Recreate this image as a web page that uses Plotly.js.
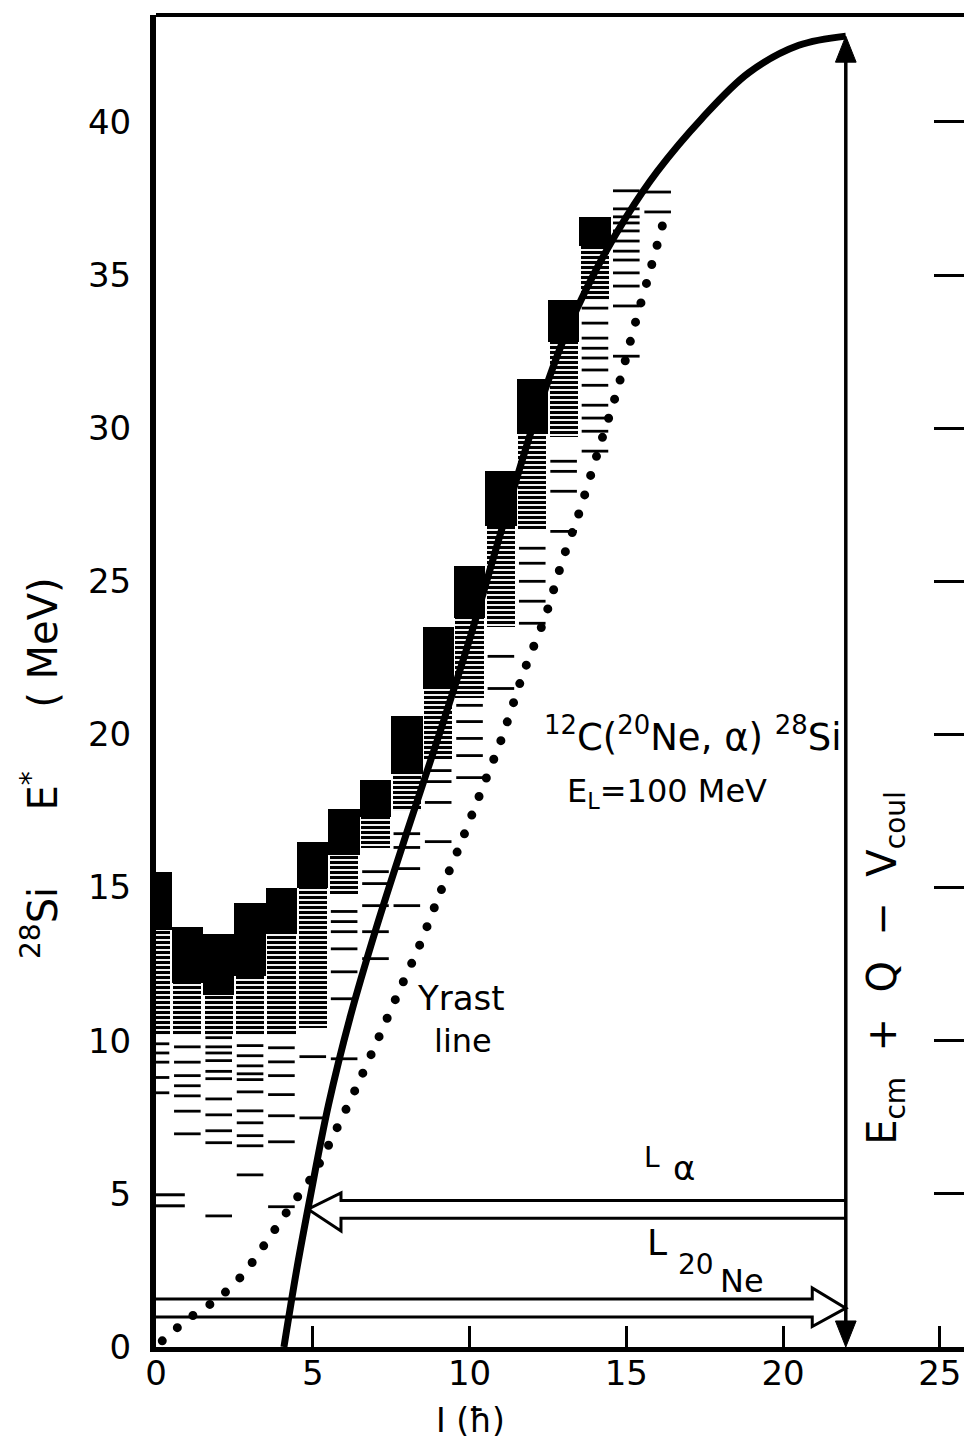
<!DOCTYPE html>
<html>
<head>
<meta charset="utf-8">
<script src="https://cdn.plot.ly/plotly-3.0.1.min.js"></script>
<style>
  html, body { margin: 0; padding: 0; background: #fff; overflow: hidden; }
  #chart { width: 964px; height: 1448px; }
</style>
</head>
<body>
<div id="chart"></div>
<script>
// Spin columns I = 0 .. 14 carrying the filled black blocks (MeV)
const boxSpins = [0, 1, 2, 3, 4, 5, 6, 7, 8, 9, 10, 11, 12, 13, 14];
const boxLow   = [13.6, 11.9, 11.5, 12.1, 13.5, 15.0, 16.05, 17.3, 18.7, 21.5, 23.8, 26.8, 29.8, 32.8, 35.95];
const boxHigh  = [15.5, 13.7, 13.5, 14.5, 15.0, 16.5, 17.55, 18.5, 20.6, 23.5, 25.5, 28.6, 31.6, 34.2, 36.9];

// Densely populated level bands under / beside the blocks (MeV)
const bandSpins = [0, 1, 2, 3, 4, 5, 6, 7, 8, 9, 10, 11, 12, 13, 14];
const bandLow   = [10.2, 10.2, 10.2, 10.2, 10.2, 10.4, 14.8, 16.3, 17.5, 19.2, 21.2, 23.5, 26.7, 29.7, 34.2];
const bandHigh  = [13.6, 11.9, 11.5, 12.1, 13.5, 15.0, 16.05, 17.3, 18.7, 21.5, 23.8, 26.8, 29.8, 32.8, 35.95];

// Individual levels, one list per spin I = 0 .. 16 (MeV)
const levels = [
  [9.9, 9.6, 9.3, 8.8, 8.3],
  [9.8, 9.3, 8.86, 8.53, 8.2, 7.7, 6.96],
  [10.1, 9.8, 9.6, 9.35, 9.0, 8.76, 8.1, 7.58, 7.06, 6.67, 4.28],
  [9.84, 9.51, 9.18, 8.92, 8.73, 8.33, 7.71, 7.32, 6.9, 6.57, 5.62],
  [9.77, 9.31, 8.86, 8.24, 7.55, 6.7, 4.58],
  [9.48, 7.48],
  [14.22, 13.89, 13.56, 13.0, 12.25, 11.37, 9.41],
  [15.52, 15.13, 14.41, 13.56, 12.68],
  [16.76, 16.31, 15.62, 14.41],
  [18.82, 18.46, 17.78, 16.5],
  [20.95, 20.42, 19.87, 19.31, 18.59],
  [22.55, 21.5],
  [26.08, 25.59, 25.0, 24.35, 23.63],
  [28.92, 28.59, 27.94, 26.63],
  [33.92, 33.43, 32.94, 32.61, 32.29, 31.9, 31.4, 30.75, 30.33, 29.9, 29.25],
  [37.75, 37.16, 36.9, 36.7, 36.44, 36.11, 35.78, 35.49, 35.07, 34.64, 33.99, 32.35],
  [37.71, 37.06]
];
// Two low-lying levels drawn across the first column pair
const lowLevelI = [0.45, 0.45];
const lowLevelE = [4.97, 4.61];

// Kinematic limit E* versus I (solid curve)
const limitI = [4.08, 4.5, 4.9, 5.5, 6.2, 7.0, 8.0, 9.0, 10.0, 11.0, 12.0, 13.0, 14.0, 15.0, 16.0, 17.4, 18.9, 20.5, 22.0];
const limitE = [0.0, 2.6, 4.8, 7.9, 10.8, 13.6, 16.8, 19.9, 23.1, 26.6, 30.0, 32.9, 35.1, 36.9, 38.4, 40.1, 41.6, 42.5, 42.8];

// Yrast line (dotted)
const yrastI = [0.2, 1.0, 2.0, 2.8, 3.7, 4.3, 5.0, 5.7, 6.4, 7.1, 7.7, 8.4, 9.05, 9.7, 10.35, 11.0, 11.75, 12.4, 13.0, 13.45, 14.1, 14.7, 15.25, 15.8, 16.2];
const yrastE = [0.2, 0.9, 1.6, 2.4, 3.7, 4.6, 5.6, 7.0, 8.5, 10.1, 11.5, 13.1, 14.8, 16.4, 18.1, 19.8, 22.1, 23.8, 25.8, 27.1, 29.25, 31.2, 33.3, 35.3, 36.8];

// Grazing angular momentum and available energy E_cm + Q - V_coul
const lGraze = 22.0;
const eAvail = 42.8;
// L_alpha open arrow: shaft levels, barb levels, tip (I, E), barb spin
const lAlphaShaft = [4.78, 4.2];
const lAlphaBarb  = [5.03, 3.79];
const lAlphaTip   = [4.85, 4.5];
const lAlphaBarbI = 5.9;
// L_20Ne open arrow
const lNeShaft = [1.57, 0.98];
const lNeBarb  = [1.93, 0.67];
const lNeTipE  = 1.27;
const lNeBarbI = 20.93;
// solid heads of the vertical arrow: length in MeV, half-width in spin units
const headLen = 0.85;
const headHalf = 0.33;

const xTicks = [0, 5, 10, 15, 20, 25];
const yTicks = [0, 5, 10, 15, 20, 25, 30, 35, 40];

const FONT = 'DejaVu Sans, sans-serif';

// flatten the per-spin level lists
const levelI = [], levelE = [];
levels.forEach((list, spin) => list.forEach(e => { levelI.push(spin); levelE.push(e); }));

const traces = [
  {
    type: 'bar', x: bandSpins,
    y: bandHigh.map((h, k) => h - bandLow[k]), base: bandLow,
    width: 0.9,
    marker: { color: '#000', line: { width: 0 },
      pattern: { shape: '-', size: 5, solidity: 0.62, fgcolor: '#000', fillmode: 'replace' } },
    hoverinfo: 'skip', showlegend: false
  },
  {
    type: 'bar', x: boxSpins,
    y: boxHigh.map((h, k) => h - boxLow[k]), base: boxLow,
    width: 1.0,
    marker: { color: '#000', line: { width: 0 } },
    hoverinfo: 'skip', showlegend: false
  },
  {
    type: 'scatter', mode: 'markers', x: levelI, y: levelE,
    marker: { symbol: 'line-ew', size: 19, color: '#000', line: { color: '#000', width: 2.8 } },
    hoverinfo: 'skip', showlegend: false
  },
  {
    type: 'scatter', mode: 'markers', x: lowLevelI, y: lowLevelE,
    marker: { symbol: 'line-ew', size: 21, color: '#000', line: { color: '#000', width: 3 } },
    hoverinfo: 'skip', showlegend: false
  },
  {
    type: 'scatter', mode: 'lines', x: yrastI, y: yrastE,
    line: { color: '#000', width: 9, dash: '0px,20px', shape: 'spline', smoothing: 0.8 },
    hoverinfo: 'skip', showlegend: false
  },
  {
    type: 'scatter', mode: 'lines', x: limitI, y: limitE,
    line: { color: '#000', width: 7, shape: 'spline', smoothing: 1 },
    hoverinfo: 'skip', showlegend: false
  },
  {
    // carrier for the right-hand tick axis
    type: 'scatter', mode: 'markers', x: [lGraze], y: [0], yaxis: 'y2',
    marker: { opacity: 0 }, hoverinfo: 'skip', showlegend: false
  }
];

const aT = lAlphaTip, aS = lAlphaShaft, aB = lAlphaBarb, aX = lAlphaBarbI;
const alphaPath = `M${lGraze},${aS[0]} L${aX},${aS[0]} L${aX},${aB[0]} L${aT[0]},${aT[1]} L${aX},${aB[1]} L${aX},${aS[1]} L${lGraze},${aS[1]}`;
const nePath = `M0,${lNeShaft[0]} L${lNeBarbI},${lNeShaft[0]} L${lNeBarbI},${lNeBarb[0]} L${lGraze},${lNeTipE} L${lNeBarbI},${lNeBarb[1]} L${lNeBarbI},${lNeShaft[1]} L0,${lNeShaft[1]}`;
const topHead = `M${lGraze},${eAvail} L${lGraze - headHalf},${eAvail - headLen} L${lGraze + headHalf},${eAvail - headLen} Z`;
const bottomHead = `M${lGraze},0 L${lGraze - headHalf},${headLen} L${lGraze + headHalf},${headLen} Z`;

// plain text label helper: centred on (x, y) in data units
function label(text, x, y, size, extra) {
  return Object.assign({ x: x, y: y, xref: 'x', yref: 'y', xanchor: 'center', yanchor: 'middle',
    showarrow: false, text: text, font: { size: size, family: FONT, color: '#000' } }, extra || {});
}

const layout = {
  width: 964, height: 1448,
  margin: { l: 156, r: 0, t: 15, b: 101 },
  paper_bgcolor: '#fff', plot_bgcolor: '#fff',
  barmode: 'overlay', bargap: 0,
  showlegend: false,
  font: { family: FONT, color: '#000' },
  xaxis: {
    range: [0, 25.77], tickvals: xTicks, ticktext: xTicks.map(String),
    ticks: 'inside', ticklen: 21, tickwidth: 3, tickcolor: '#000',
    showline: true, linewidth: 5, linecolor: '#000',
    showgrid: false, zeroline: false,
    tickfont: { size: 34, family: FONT }, ticklabelstandoff: -8
  },
  yaxis: {
    range: [0, 43.49], tickvals: yTicks, ticktext: yTicks.map(String),
    ticks: '', showline: true, linewidth: 6, linecolor: '#000',
    showgrid: false, zeroline: false,
    tickfont: { size: 34, family: FONT }, ticklabelstandoff: 12
  },
  yaxis2: {
    range: [0, 43.49], overlaying: 'y', side: 'right', anchor: 'x',
    tickvals: yTicks.slice(1), ticks: 'inside', ticklen: 30, tickwidth: 3, tickcolor: '#000',
    showticklabels: false, showline: false, showgrid: false, zeroline: false
  },
  shapes: [
    { type: 'line', xref: 'paper', yref: 'paper', x0: 0, x1: 1, y0: 1, y1: 1,
      line: { color: '#000', width: 4 } },
    // double-headed E_cm + Q - V_coul arrow
    { type: 'line', xref: 'x', yref: 'y', x0: lGraze, x1: lGraze, y0: 0.3, y1: eAvail - 0.3,
      line: { color: '#000', width: 3.5 } },
    { type: 'path', xref: 'x', yref: 'y', path: topHead, fillcolor: '#000', line: { color: '#000', width: 1 } },
    { type: 'path', xref: 'x', yref: 'y', path: bottomHead, fillcolor: '#000', line: { color: '#000', width: 1 } },
    // open arrows for L_alpha and L_20Ne
    { type: 'path', xref: 'x', yref: 'y', path: alphaPath, line: { color: '#000', width: 3 } },
    { type: 'path', xref: 'x', yref: 'y', path: nePath, line: { color: '#000', width: 3 } }
  ],
  annotations: [
    label('E<sub>cm</sub>&nbsp;&nbsp;+&nbsp;&nbsp;Q&nbsp;&nbsp;−&nbsp;&nbsp;V<sub>coul</sub>', 23.25, 12.38, 40, { textangle: -90 }),
    label('<sup>12</sup>C(<sup>20</sup>Ne, α) <sup>28</sup>Si', 17.1, 20.0, 37),
    label('E<sub>L</sub>=100 MeV', 16.3, 18.1, 32),
    label('Yrast', 8.26, 11.4, 34, { xanchor: 'left' }),
    label('line', 8.8, 10.0, 32, { xanchor: 'left' }),
    label('L', 15.82, 6.2, 28),
    label('α', 16.84, 5.83, 34),
    label('L', 15.98, 3.4, 36),
    label('20', 17.22, 2.71, 28),
    label('Ne', 18.7, 2.16, 32),
    // axis titles (positions in pixels, converted below)
    { x: 40, y: 768, xref: 'paper', yref: 'paper', xanchor: 'center', yanchor: 'middle',
      showarrow: false, textangle: -90,
      text: '<sup>28</sup>Si&nbsp;&nbsp;&nbsp;&nbsp;&nbsp;&nbsp;E<sup>*</sup>&nbsp;&nbsp;&nbsp;&nbsp;&nbsp;( MeV)',
      font: { size: 40, family: FONT } },
    { x: 470, y: 1420, xanchor: 'center', yanchor: 'middle', showarrow: false,
      text: 'I (ħ)', font: { size: 33, family: FONT } }
  ]
};

// axis-title annotations were given in pixels; convert to paper fractions
const pw = layout.width - layout.margin.l - layout.margin.r;
const ph = layout.height - layout.margin.t - layout.margin.b;
layout.annotations.slice(-2).forEach(a => {
  a.xref = 'paper'; a.yref = 'paper';
  a.x = (a.x - layout.margin.l) / pw;
  a.y = (layout.height - layout.margin.b - a.y) / ph;
});

Plotly.newPlot('chart', traces, layout, { displayModeBar: false, staticPlot: true }).then(gd => {
  // round caps turn the zero-length dashes of the yrast line into dots
  gd.querySelectorAll('.scatterlayer path.js-line').forEach(p => {
    if ((p.style.strokeDasharray || '').indexOf('0px') === 0) p.style.strokeLinecap = 'round';
  });
});
</script>
</body>
</html>
